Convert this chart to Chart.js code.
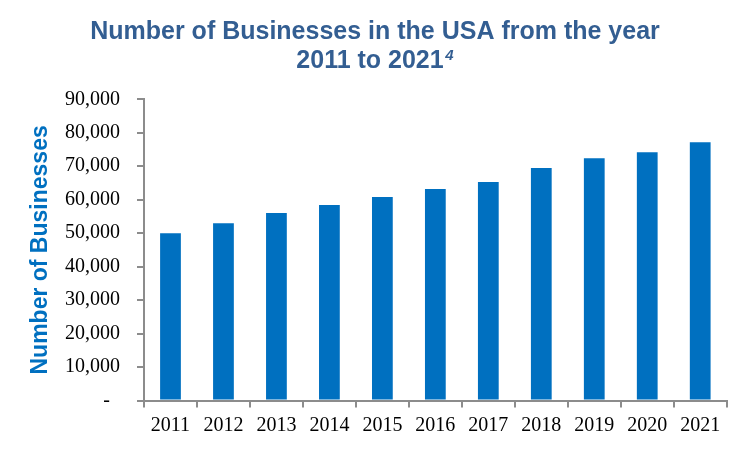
<!DOCTYPE html>
<html>
<head>
<meta charset="utf-8">
<script src="https://cdn.jsdelivr.net/npm/chart.js@4.4.0/dist/chart.umd.min.js"></script>
<style>
  html, body { margin: 0; padding: 0; background: #ffffff; }
  #wrap { width: 750px; height: 450px; }
</style>
</head>
<body>
<div id="wrap"><canvas id="c" width="750" height="450"></canvas></div>
<script>
const years = ['2011','2012','2013','2014','2015','2016','2017','2018','2019','2020','2021'];
const businesses = [50000, 53000, 56000, 58400, 60800, 63200, 65300, 69500, 72400, 74200, 77200];
const yTickLabels = ['-  ', '10,000', '20,000', '30,000', '40,000', '50,000', '60,000', '70,000', '80,000', '90,000'];
const titleLines = ['Number of Businesses in the USA from the year', '2011 to 2021\u2009\u2009'];
const titleSup = '4';
const yAxisTitle = 'Number of Businesses';

const TITLE_COLOR = '#335E92';
const BAR_COLOR = '#0070C0';
const AXIS_COLOR = '#8C8C8C';
const SERIF = '"Liberation Serif", "Times New Roman", serif';
const SANS = '"Liberation Sans", Arial, sans-serif';
const TITLE_LH = 1.18;

const supPlugin = {
  id: 'supPlugin',
  afterDraw(chart) {
    const tb = chart.titleBlock;
    if (!tb) return;
    const ctx = chart.ctx;
    const size = 25, lh = size * TITLE_LH;
    ctx.save();
    ctx.font = 'bold ' + size + 'px ' + SANS;
    const full = ctx.measureText(titleLines[1]).width;
    const base = ctx.measureText('2011 to 2021').width;
    const cx = (tb.left + tb.right) / 2;
    const lineY = tb.top + tb.options.padding.top + lh / 2 + lh;
    const x = cx - full / 2 + base + 1.5;
    ctx.font = 'italic bold 15px ' + SANS;
    ctx.fillStyle = TITLE_COLOR;
    ctx.textAlign = 'left';
    ctx.textBaseline = 'alphabetic';
    ctx.fillText(titleSup, x, lineY - 1);
    ctx.restore();
  }
};

new Chart(document.getElementById('c'), {
  type: 'bar',
  data: {
    labels: years,
    datasets: [{
      label: yAxisTitle,
      data: businesses,
      backgroundColor: BAR_COLOR,
      borderWidth: 0,
      categoryPercentage: 0.8,
      barPercentage: 0.49
    }]
  },
  plugins: [supPlugin],
  options: {
    responsive: false,
    animation: false,
    devicePixelRatio: 1,
    layout: { padding: { left: 23.3, right: 23.3, top: 0, bottom: 0 } },
    plugins: {
      legend: { display: false },
      tooltip: { enabled: false },
      title: {
        display: true,
        text: titleLines,
        color: TITLE_COLOR,
        font: { family: SANS, size: 25, weight: 'bold', lineHeight: TITLE_LH },
        padding: { top: 17, bottom: 23.3 }
      }
    },
    scales: {
      x: {
        grid: { display: true, drawOnChartArea: false, drawTicks: true, tickLength: 7, color: AXIS_COLOR, lineWidth: 2, offset: true },
        border: { display: true, color: AXIS_COLOR, width: 2 },
        ticks: { color: '#000000', font: { family: SERIF, size: 20 }, padding: 6, maxRotation: 0, autoSkip: false },
        afterFit(scale) { scale.height = 49.5; }
      },
      y: {
        min: 0,
        max: 90000,
        grid: { display: true, drawOnChartArea: false, drawTicks: true, tickLength: 7, color: AXIS_COLOR, lineWidth: 2 },
        border: { display: true, color: AXIS_COLOR, width: 2 },
        ticks: {
          stepSize: 10000,
          color: '#000000',
          font: { family: SERIF, size: 20 },
          padding: 17,
          callback: (value, index) => yTickLabels[index]
        },
        title: {
          display: true,
          text: yAxisTitle,
          color: BAR_COLOR,
          font: { family: SANS, size: 23, weight: 'bold', lineHeight: 1.2 },
          padding: { top: 3.9, bottom: 0 }
        },
        afterFit(scale) { scale.width = 120.7; }
      }
    }
  }
});
</script>
</body>
</html>
